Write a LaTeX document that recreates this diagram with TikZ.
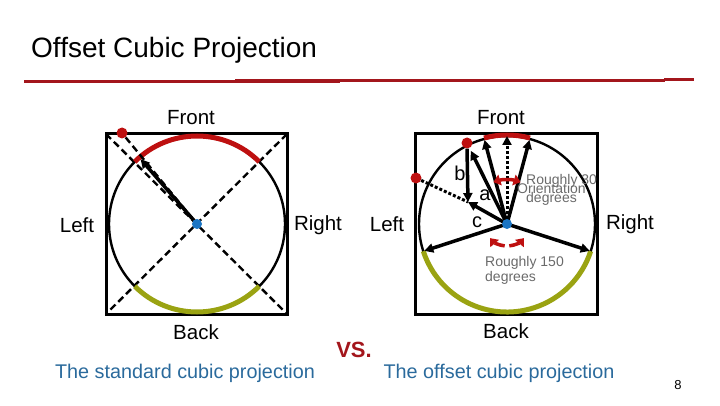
\documentclass[tikz,border=0pt]{standalone}
\usepackage{fontspec}
\setmainfont{Liberation Sans}
\usetikzlibrary{arrows.meta,calc}
\definecolor{dred}{HTML}{A3161C}
\definecolor{arcred}{HTML}{BE1010}
\definecolor{olivec}{HTML}{9AA312}
\definecolor{dotblue}{HTML}{1B75C4}
\definecolor{capblue}{HTML}{2A6A9C}
\definecolor{graytxt}{HTML}{6A6A6A}
\tikzset{
  box/.style={line width=3pt,draw=black},
  circ/.style={line width=2.4pt,draw=black},
  diag/.style={line width=2.4pt,dash pattern=on 7pt off 4pt},
  dotline/.style={line width=3pt,dash pattern=on 3pt off 2pt},
  frontarc/.style={line width=5pt,draw=arcred},
  backarc/.style={line width=5pt,draw=olivec},
  vec/.style={line width=3.5pt,-{Triangle[length=9pt,width=9pt]}},
  lbl/.style={font=\fontsize{20.5}{22}\selectfont,inner sep=0pt},
  smalllbl/.style={font=\fontsize{20}{22}\selectfont,inner sep=0pt},
  graylbl/.style={font=\fontsize{14}{15}\selectfont,text=graytxt,inner sep=0pt,anchor=west},
  caption/.style={font=\fontsize{19.8}{22}\selectfont,text=capblue,inner sep=0pt},
  reddot/.style={circle,fill=arcred,inner sep=0pt,minimum size=11pt},
  bluedot/.style={circle,fill=dotblue,inner sep=0pt,minimum size=10pt},
  redtip/.tip={Triangle[length=7pt,width=11pt]},
  angarrow/.style={line width=3.5pt,draw=arcred,-redtip}
}
\begin{document}
\begin{tikzpicture}[x=1pt,y=1pt]
\useasboundingbox (0,0) rectangle (720,405);
% title
\node[anchor=west,inner sep=0pt,font=\fontsize{28}{30}\selectfont] (title) at (31,355) {Offset Cubic Projection};
\draw[dred,line width=3pt] (24,323.7) -- (236,323.7);
\draw[dred,line width=3.6pt] (235,324.2) -- (340,324.2);
\draw[dred,line width=3pt] (339,324.8) -- (665,324.8);
\draw[dred,line width=3.6pt] (664,325.6) -- (694,325.6);

% ---------- left diagram ----------
\coordinate (LC) at (197,181);
\draw[box] (106,271) rectangle (287,91);
\draw[circ] (LC) circle (88);
\draw[diag] (106,271) -- (287,91);
\draw[diag] (287,271) -- (106,91);
\draw[frontarc] ($(LC)+(45:88)$) arc (45:135:88);
\draw[backarc] ($(LC)+(225:88)$) arc (225:315:88);
\node[reddot] (Lred) at (122,272) {};
\draw[diag] (Lred) -- (LC);
\coordinate (Ltip) at ($(LC)+(131:86)$);
\draw[vec] (LC) -- (Ltip);
\node[bluedot] (Lblue) at (LC) {};
\node[lbl] (LF) at (191,287) {Front};
\node[lbl] (LL) at (77,180) {Left};
\node[lbl] (LR) at (318,180) {Right};
\node[lbl] (LB) at (196,73) {Back};

% ---------- right diagram ----------
\coordinate (RC) at (507,181);
\draw[box] (415,271) rectangle (597,91);
\draw[circ] (RC) circle (88);
\draw[frontarc] ($(RC)+(75:89)$) arc (75:105:89);
\draw[backarc] ($(RC)+(198:88)$) arc (198:342:88);
\node[reddot] (R1) at (467,262) {};
\node[reddot] (R2) at (416,227) {};
\coordinate (J) at (468,203);
\draw[dotline] (R2) -- (J);
\draw[vec] (R1.south) -- (J);
\draw[vec] (RC) -- (J);
\draw[vec,shorten >=3pt] (RC) -- (R1);
\draw[vec] (RC) -- ($(RC)+(105:87)$);
\draw[vec] (RC) -- ($(RC)+(75:87)$);
\draw[dotline,-{Triangle[length=9pt,width=9pt]}] (RC) -- ($(RC)+(90:88)$);
\draw[vec] (RC) -- ($(RC)+(198:87)$);
\draw[vec] (RC) -- ($(RC)+(342:87)$);
\draw[line width=3.5pt,draw=arcred,redtip-redtip] ($(RC)+(108:44)$) arc (108:72:44);
\draw[angarrow] ($(RC)+(264:22)$) arc (264:220:22);
\draw[angarrow] ($(RC)+(276:22)$) arc (276:320:22);
\node[bluedot] (Rblue) at (RC) {};
\node[smalllbl] (la) at (485,210) {a};
\node[smalllbl] (lb) at (460,232) {b};
\node[smalllbl] (lc) at (477,183) {c};
\node[graylbl] (g1) at (526,224) {Roughly 30};
\node[graylbl] (g2) at (517,217) {Orientation};
\node[graylbl] (g3) at (526,206) {degrees};
\node[graylbl] (g4) at (485,142) {Roughly 150};
\node[graylbl] (g5) at (485,127) {degrees};
\node[lbl] (RF) at (501,287) {Front};
\node[lbl] (RL) at (387,181) {Left};
\node[lbl] (RR) at (630,181) {Right};
\node[lbl] (RB) at (506,74) {Back};

% ---------- bottom ----------
\node[caption] (cap1) at (185,32) {The standard cubic projection};
\node[caption] (cap2) at (499,32) {The offset cubic projection};
\node[inner sep=0pt,text=dred,font=\fontsize{22}{24}\selectfont\bfseries] (vs) at (354,55) {VS.};
\node[inner sep=0pt,font=\fontsize{13}{14}\selectfont] (pg) at (678,20) {8};
\end{tikzpicture}
\end{document}
